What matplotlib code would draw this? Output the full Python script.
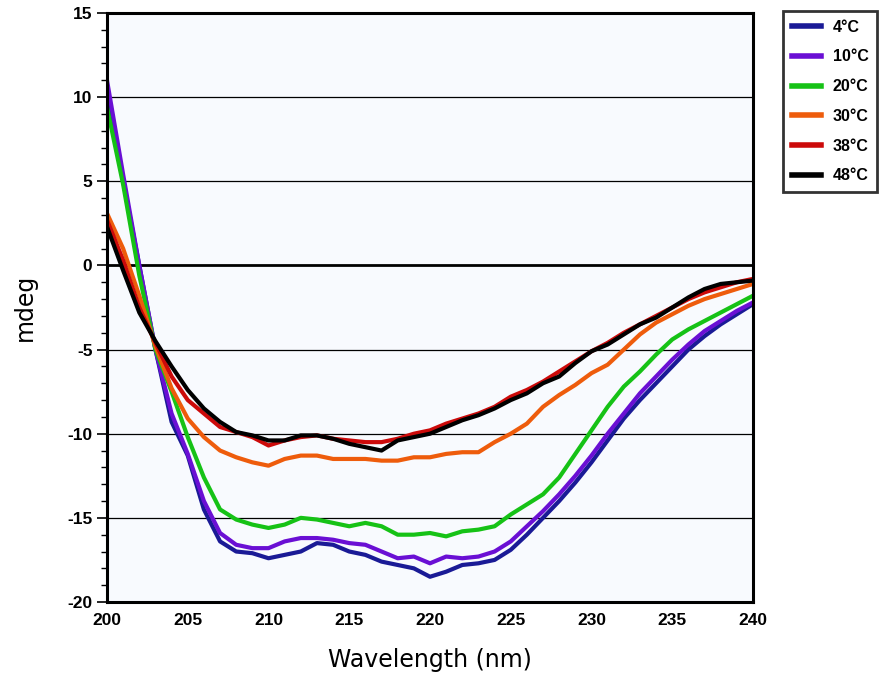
import matplotlib.pyplot as plt
import numpy as np

plt.rcParams['axes.unicode_minus'] = False

wl = np.arange(200, 241)

t4 = [10.3, 5.0, 0.0, -5.0, -9.3, -11.3, -14.5, -16.4, -17.0, -17.1,
      -17.4, -17.2, -17.0, -16.5, -16.6, -17.0, -17.2, -17.6, -17.8, -18.0,
      -18.5, -18.2, -17.8, -17.7, -17.5, -16.9, -16.0, -15.0, -14.0, -12.9,
      -11.7, -10.4, -9.1, -8.0, -7.0, -6.0, -5.0, -4.2, -3.5, -2.9, -2.3]
t10 = [11.0, 5.4, 0.0, -5.0, -8.8, -11.2, -14.0, -15.9, -16.6, -16.8,
       -16.8, -16.4, -16.2, -16.2, -16.3, -16.5, -16.6, -17.0, -17.4, -17.3,
       -17.7, -17.3, -17.4, -17.3, -17.0, -16.4, -15.5, -14.6, -13.6, -12.5,
       -11.3, -10.0, -8.8, -7.6, -6.6, -5.6, -4.7, -3.9, -3.3, -2.7, -2.2]
t20 = [9.4, 4.8, -0.6, -5.0, -7.5, -10.2, -12.6, -14.5, -15.1, -15.4,
       -15.6, -15.4, -15.0, -15.1, -15.3, -15.5, -15.3, -15.5, -16.0, -16.0,
       -15.9, -16.1, -15.8, -15.7, -15.5, -14.8, -14.2, -13.6, -12.6, -11.2,
       -9.8, -8.4, -7.2, -6.3, -5.3, -4.4, -3.8, -3.3, -2.8, -2.3, -1.8]
t30 = [3.1, 1.0, -1.8, -4.8, -7.3, -9.1, -10.2, -11.0, -11.4, -11.7,
       -11.9, -11.5, -11.3, -11.3, -11.5, -11.5, -11.5, -11.6, -11.6, -11.4,
       -11.4, -11.2, -11.1, -11.1, -10.5, -10.0, -9.4, -8.4, -7.7, -7.1,
       -6.4, -5.9, -5.0, -4.1, -3.4, -2.9, -2.4, -2.0, -1.7, -1.4, -1.1]
t38 = [2.7, 0.3, -2.5, -4.6, -6.6, -8.0, -8.8, -9.6, -9.9, -10.2,
       -10.7, -10.4, -10.2, -10.1, -10.3, -10.4, -10.5, -10.5, -10.3, -10.0,
       -9.8, -9.4, -9.1, -8.8, -8.4, -7.8, -7.4, -6.9, -6.3, -5.7,
       -5.1, -4.6, -4.0, -3.5, -3.0, -2.5, -2.0, -1.6, -1.3, -1.0, -0.8]
t48 = [2.3, -0.3, -2.8, -4.5, -6.0, -7.4, -8.5, -9.3, -9.9, -10.1,
       -10.4, -10.4, -10.1, -10.1, -10.3, -10.6, -10.8, -11.0, -10.4, -10.2,
       -10.0, -9.6, -9.2, -8.9, -8.5, -8.0, -7.6, -7.0, -6.6, -5.8,
       -5.1, -4.7, -4.1, -3.5, -3.1, -2.5, -1.9, -1.4, -1.1, -1.0, -0.9]

labels = ['4°C', '10°C', '20°C', '30°C', '38°C', '48°C']
colors = ['#1a1a96', '#6a0fd4', '#16c216', '#ee5c0c', '#cc0a0a', '#000000']
series = [t4, t10, t20, t30, t38, t48]

fig = plt.figure(figsize=(8.86, 6.82), dpi=100)
ax = fig.add_axes([107/886, 1-602/682, 646/886, 589/682])
ax.set_facecolor('#f8fafe')

for y in [-15, -10, -5, 5, 10]:
    ax.axhline(y, color='black', lw=0.9, zorder=1)
ax.axhline(0, color='black', lw=2.0, zorder=1)

for y, c, lab in zip(series, colors, labels):
    ax.plot(wl, y, color=c, lw=3.0, label=lab, zorder=2)

ax.set_xlim(200, 240)
ax.set_ylim(-20, 15)
ax.set_xticks(np.arange(200, 241, 5))
ax.set_yticks(np.arange(-20, 16, 5))
ax.set_yticks(np.arange(-20, 16, 1), minor=True)
ax.tick_params(axis='x', length=0, pad=8)
ax.tick_params(axis='y', which='major', length=7, width=1.2, direction='out')
ax.tick_params(axis='y', which='minor', length=4, width=1.0, direction='out')
for lab in ax.get_xticklabels() + ax.get_yticklabels():
    lab.set_fontfamily('Liberation Sans')
    lab.set_fontweight('bold')
    lab.set_fontsize(12.5)
for s in ax.spines.values():
    s.set_linewidth(2.2)
    s.set_color('black')

ax.set_xlabel('Wavelength (nm)', fontsize=17, fontfamily='DejaVu Sans', labelpad=14)
ax.set_ylabel('mdeg', fontsize=17, fontfamily='DejaVu Sans', labelpad=22)

leg = fig.legend(loc='upper left', bbox_to_anchor=(783/886, 1-11/682),
                 prop={'family': 'Liberation Sans', 'weight': 'bold', 'size': 11.5},
                 frameon=True, fancybox=False, edgecolor='black',
                 handlelength=1.8, handletextpad=0.75, labelspacing=0.92,
                 borderpad=0.55, borderaxespad=0)
leg.get_frame().set_linewidth(2.0)
for h in leg.get_lines():
    h.set_linewidth(4)

fig.savefig('out.png', dpi=100)
